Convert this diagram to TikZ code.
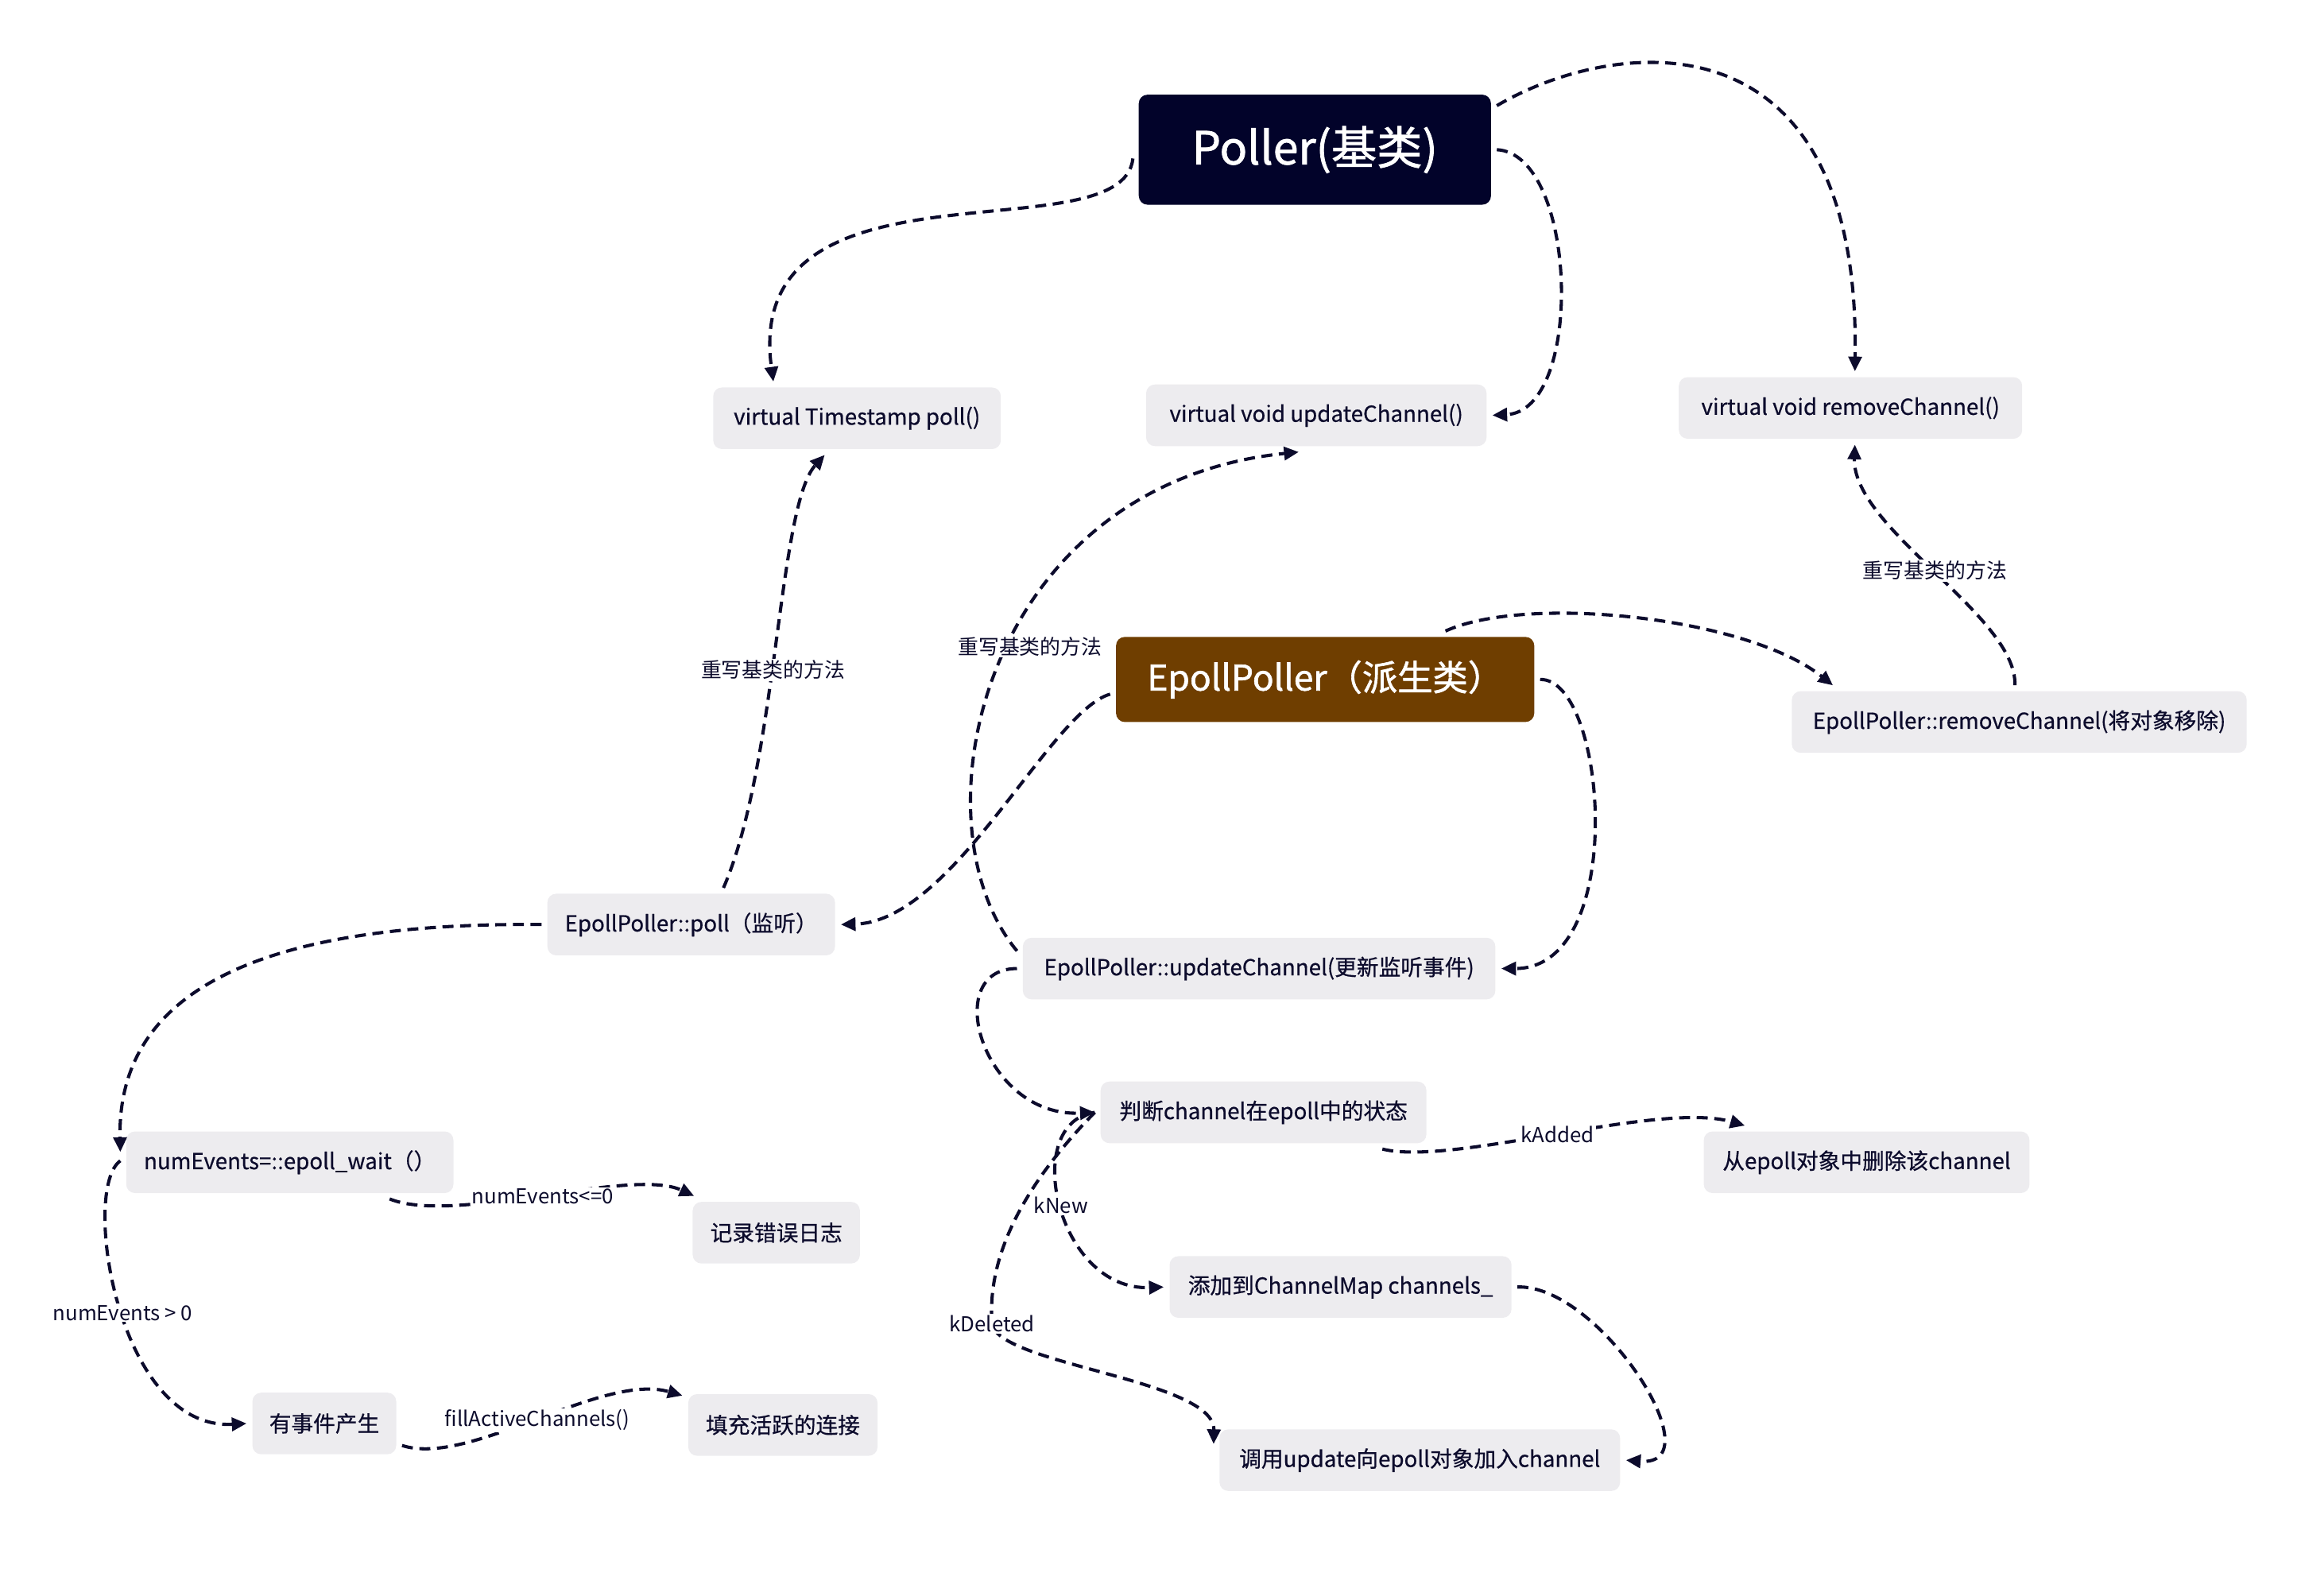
\documentclass[tikz,border=0pt]{standalone}
\usepackage{fontspec}
\setmainfont{Noto Sans CJK SC}
\newfontfamily\boxfont[FakeBold=0.6]{Noto Sans CJK SC}
\newfontfamily\titlefont[FakeBold=1.3]{Noto Sans CJK SC}
\usetikzlibrary{arrows.meta}
\definecolor{inkblue}{HTML}{0C0B2C}
\definecolor{boxgray}{HTML}{EDECEF}
\definecolor{basenavy}{HTML}{02032A}
\definecolor{derivbrown}{HTML}{6F3E00}
\begin{document}
\begin{tikzpicture}
[x=1pt,y=-1pt,
  boxdecorate/.style={shape=rectangle,rounded corners=6pt,fill=boxgray,text=inkblue,
    minimum height=42pt,inner xsep=11pt,outer sep=4pt,
    font=\boxfont\fontsize{15}{18}\selectfont},%
  basedecorate/.style={boxdecorate,fill=basenavy,text=white,minimum width=240pt,
    minimum height=75pt,font=\titlefont\fontsize{31}{36}\selectfont},%
  derivdecorate/.style={boxdecorate,fill=derivbrown,text=white,minimum width=285pt,
    minimum height=58pt,font=\titlefont\fontsize{24}{28}\selectfont},%
  linkdecorate/.style={draw=inkblue,line width=2.2pt,dash pattern=on 7.5pt off 4.5pt,
    -{Triangle[length=10pt,width=9pt]}},%
  labeldecorate/.style={fill=white,text=inkblue,inner sep=1pt,
    font=\fontsize{14}{16}\selectfont}]
\useasboundingbox (0,0) rectangle (1568,1087.5);
%%% base class and its virtual methods
% nodes or boxes
\node (poller) at (896,102) [basedecorate] {Poller(基类)};
\node (vpoll) at (584,285) [boxdecorate,minimum width=196pt] {virtual Timestamp poll()};
\node (vupd) at (897,283) [boxdecorate,minimum width=232pt] {virtual void updateChannel()};
\node (vrem) at (1261,278) [boxdecorate,minimum width=234pt] {virtual void removeChannel()};
% edges or lines
\draw[linkdecorate] ([yshift=-6pt]poller.west) .. controls (765,175) and (505,100) .. ([xshift=-57pt]vpoll.north);
\draw[linkdecorate] (poller.east) .. controls (1075,105) and (1080,280) .. (vupd.east);
\draw[linkdecorate] ([yshift=30pt]poller.east) .. controls (1100,25) and (1268,5) .. ([xshift=3pt]vrem.north);
%
%%% derived class
% nodes or boxes
\node (epp) at (903,463) [derivdecorate] {EpollPoller（派生类）};
\node (erem) at (1376,492) [boxdecorate,minimum width=310pt] {EpollPoller::removeChannel(将对象移除)};
\node (epoll) at (471,630) [boxdecorate,minimum width=196pt] {EpollPoller::poll（监听）};
\node (eupd) at (858,660) [boxdecorate,minimum width=322pt] {EpollPoller::updateChannel(更新监听事件)};
% edges or lines
\draw[linkdecorate] ([yshift=-10pt]epp.west) .. controls (715,485) and (650,628) .. (epoll.east);
\draw[linkdecorate] ([xshift=82pt]epp.north) .. controls (1040,405) and (1190,420) .. ([xshift=32pt]erem.north west);
\draw[linkdecorate] (epp.east) .. controls (1095,462) and (1110,660) .. (eupd.east);
\draw[linkdecorate] ([xshift=22pt]epoll.north) .. controls (530,520) and (530,345) ..
  node[labeldecorate,pos=0.45] {重写基类的方法} ([xshift=-22pt]vpoll.south);
\draw[linkdecorate] ([yshift=12pt]eupd.west) .. controls (620,560) and (670,330) ..
  node[labeldecorate,pos=0.53,xshift=15pt] {重写基类的方法} ([xshift=-12pt]vupd.south);
\draw[linkdecorate] ([xshift=-3pt]erem.north) .. controls (1375,420) and (1262,360) ..
  node[labeldecorate,pos=0.5] {重写基类的方法} ([xshift=3pt]vrem.south);
%
%%% poll
% nodes or boxes
\node (numev) at (197.5,792) [boxdecorate,minimum width=223pt] {numEvents=::epoll\_wait（）};
\node (errlog) at (529,840) [boxdecorate,minimum width=114pt] {记录错误日志};
\node (evt) at (221,970) [boxdecorate,minimum width=98pt] {有事件产生};
\node (fillconn) at (533.5,971) [boxdecorate,minimum width=129pt] {填充活跃的连接};
% edges or lines
\draw[linkdecorate] (epoll.west) .. controls (150,628) and (80,690) .. ([yshift=-18pt]numev.north west);
\draw[linkdecorate] ([yshift=-24pt]numev.north west) .. controls (55,810) and (80,975) ..
  node[labeldecorate,pos=0.52] {numEvents > 0} (evt.west);
\draw[linkdecorate] ([xshift=68pt]numev.south) .. controls (310,835) and (430,795) ..
  node[labeldecorate,pos=0.5] {numEvents<=0} ([xshift=5pt]errlog.north west);
\draw[linkdecorate] ([yshift=-15pt]evt.east) .. controls (320,1000) and (410,935) ..
  node[labeldecorate,pos=0.5] {fillActiveChannels()} ([yshift=20pt]fillconn.west);
%
%%% updateChannel
% nodes or boxes
\node (judge) at (861,758) [boxdecorate,minimum width=222pt] {判断channel在epoll中的状态};
\node (delchan) at (1272,792) [boxdecorate,minimum width=222pt] {从epoll对象中删除该channel};
\node (addmap) at (913.5,877) [boxdecorate,minimum width=233pt] {添加到ChannelMap channels\_};
\node (update) at (967.5,995) [boxdecorate,minimum width=273pt] {调用update向epoll对象加入channel};
% edges or lines
\draw[linkdecorate] (eupd.west) .. controls (640,660) and (670,762) .. (judge.west);
\draw[linkdecorate] ([xshift=81pt]judge.south) .. controls (990,795) and (1130,750) ..
  node[labeldecorate,pos=0.5] {kAdded} ([xshift=32pt]delchan.north west);
\draw[linkdecorate] (judge.west) .. controls (695,765) and (720,880) ..
  node[labeldecorate,pos=0.5] {kNew} (addmap.west);
\draw[linkdecorate] (judge.west) .. controls (705,800) and (672,850) .. (676,902)
  node[labeldecorate] {kDeleted}
  .. controls (680,930) and (828,940) .. ([yshift=-14pt]update.north west);
\draw[linkdecorate] (addmap.east) .. controls (1090,875) and (1170,1000) .. (update.east);
\end{tikzpicture}
\end{document}
